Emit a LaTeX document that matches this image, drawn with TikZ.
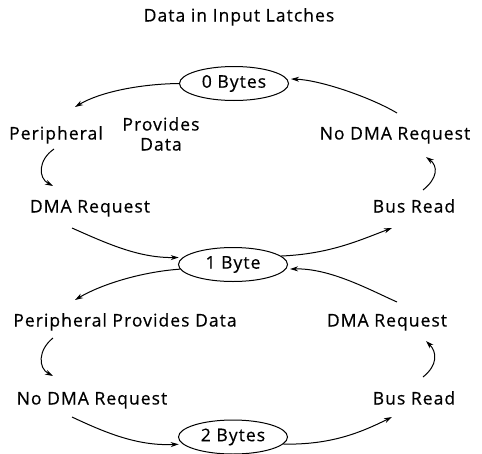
\documentclass[tikz,border=0pt]{standalone}
\usepackage{fontspec}
\setmainfont{Open Sans}[LetterSpace=6,FakeBold=0.5]
\usetikzlibrary{arrows.meta,shapes.geometric}
\begin{document}
\begin{tikzpicture}[x=1pt,y=-1pt,
  lbl/.style={font=\fontsize{17.5}{20}\selectfont, inner sep=1pt, text height=13pt, text depth=4pt},
  state/.style={draw, ellipse, line width=1pt, minimum width=109pt, minimum height=34pt, inner sep=0pt, font=\fontsize{17.5}{20}\selectfont},
  arr/.style={-{Stealth[length=8pt,width=5pt,inset=2.5pt]}, line width=1pt},
  toell/.style={shorten >=4pt}]
\useasboundingbox (0,0) rectangle (482,453);
\node[lbl] (title) at (239,17) {Data in Input Latches};
\node[state] (b0) at (234,83.5) {0 Bytes};
\node[lbl] (pp1) at (56,135) {Peripheral};
\node[lbl, align=center] (prov) at (161,146) {Provides\\Data};
\node[lbl] (ndr1) at (395,135) {No DMA Request};
\node[lbl] (dma1) at (90,208) {DMA Request};
\node[lbl] (bus1) at (414,208) {Bus Read};
\node[state] (b1) at (233,264.5) {1 Byte};
\node[lbl] (ppd) at (125,322) {Peripheral Provides Data};
\node[lbl] (dma2) at (387,322) {DMA Request};
\node[lbl] (ndr2) at (92,400) {No DMA Request};
\node[lbl] (bus2) at (414,400) {Bus Read};
\node[state] (b2) at (233,437) {2 Bytes};
% top loop
\draw[arr] (b0.180) .. controls (140,84) and (100,92) .. ([shift={(19,-28)}]pp1.center);
\draw[arr,toell] ([shift={(2,-22)}]ndr1.center) .. controls (370,97) and (320,80) .. (b0.5);
\draw[arr] ([shift={(-2,14)}]pp1.center) .. controls (38,160) and (38,178) .. ([shift={(-37,-22)}]dma1.center);
\draw[arr] ([shift={(9,-18)}]bus1.center) .. controls (438,178) and (438,166) .. ([shift={(31,22)}]ndr1.center);
% middle
\draw[arr,toell] ([shift={(-18,20)}]dma1.center) .. controls (110,245) and (140,258) .. (b1.172);
\draw[arr] (b1.10) .. controls (330,254) and (360,240) .. ([shift={(-22,20)}]bus1.center);
\draw[arr] (b1.185) .. controls (140,272) and (100,285) .. ([shift={(-50,-22)}]ppd.center);
\draw[arr,toell] ([shift={(10,-20)}]dma2.center) .. controls (370,290) and (330,268) .. (b1.-5);
% bottom loop
\draw[arr] ([shift={(-72,16)}]ppd.center) .. controls (38,350) and (38,368) .. ([shift={(-39,-24)}]ndr2.center);
\draw[arr] ([shift={(9,-23)}]bus2.center) .. controls (438,365) and (437,352) .. ([shift={(39,19)}]dma2.center);
\draw[arr,toell] ([shift={(-20,17)}]ndr2.center) .. controls (110,435) and (140,446) .. (b2.188);
\draw[arr] (b2.-8) .. controls (330,445) and (360,433) .. ([shift={(-22,17)}]bus2.center);
\end{tikzpicture}
\end{document}
